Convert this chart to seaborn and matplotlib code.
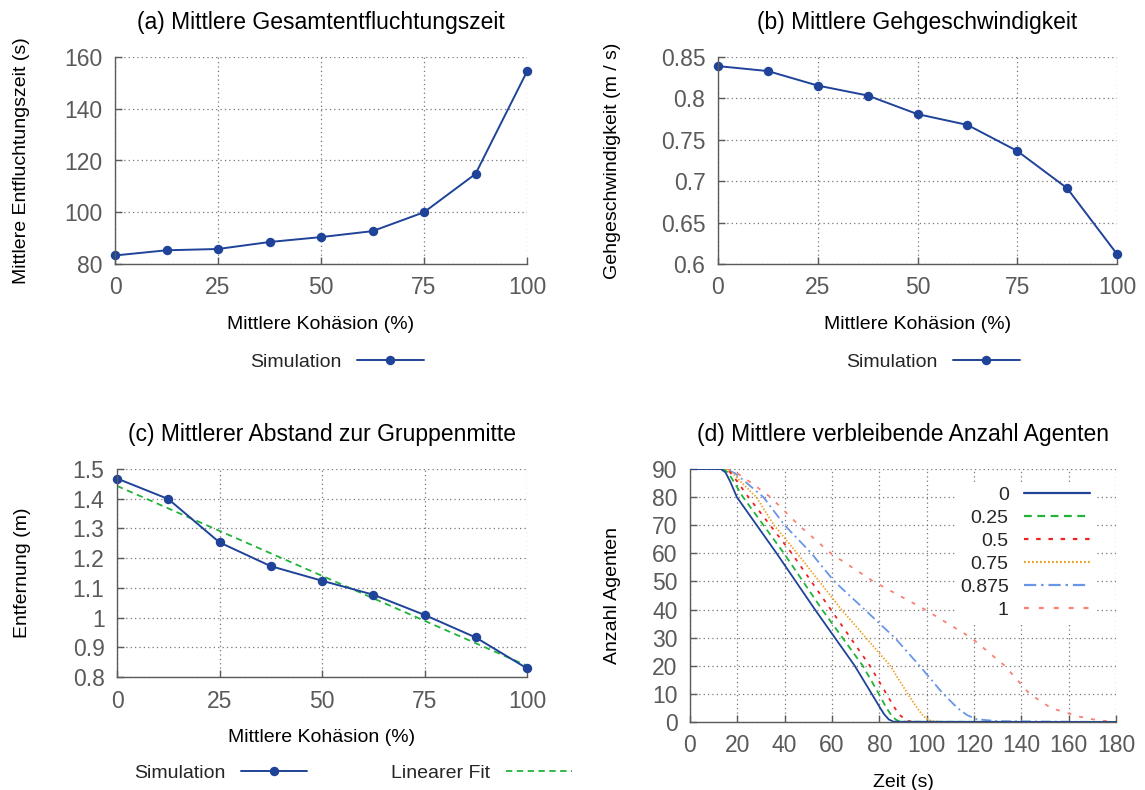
import numpy as np
import pandas as pd
import matplotlib
matplotlib.use("Agg")
import matplotlib.pyplot as plt
from matplotlib.lines import Line2D
import seaborn as sns

# Mean values per cohesion level (%)
kohaesion = [0, 12.5, 25, 37.5, 50, 62.5, 75, 87.5, 100]
entfluchtungszeit = [83.3, 85.3, 85.8, 88.5, 90.4, 92.7, 100.0, 114.8, 154.4]
gehgeschwindigkeit = [0.839, 0.833, 0.8155, 0.8035, 0.781, 0.768, 0.7365, 0.6915, 0.612]
abstand = [1.468, 1.399, 1.253, 1.173, 1.124, 1.077, 1.009, 0.933, 0.829]

# Remaining agents over time for each cohesion value
kurven_labels = ["0", "0.25", "0.5", "0.75", "0.875", "1"]
zeit_0 = [0, 13, 15, 17, 19.8, 36.6, 52.8, 69.6, 76.8, 80, 82, 84, 86, 180]
agenten_0 = [90, 90, 88.8, 85.5, 80, 60, 40, 20, 10, 5.5, 2.8, 0.9, 0.1, 0]
zeit_025 = [0, 14, 16, 18.5, 22.4, 39.7, 55.8, 73, 79.8, 83, 85, 87, 89, 180]
agenten_025 = [90, 90, 88.8, 85.5, 80, 60, 40, 20, 10, 5, 2.5, 0.8, 0.1, 0]
zeit_05 = [0, 15, 17, 20, 24.7, 43, 59.5, 76, 83, 86.5, 89, 91.5, 94, 180]
agenten_05 = [90, 90, 88.8, 85.5, 80, 60, 40, 20, 10, 5, 2.2, 0.6, 0, 0]
zeit_075 = [0, 15, 18, 22, 28, 35.5, 45.3, 64, 84.6, 92, 96, 98.5, 101, 105, 180]
agenten_075 = [90, 90, 88.5, 85, 80, 70, 60, 40, 20, 10, 5, 2.2, 0.6, 0, 0]
zeit_0875 = [0, 15, 19, 24, 31, 40, 51.3, 61, 73.8, 86.5, 97, 107, 113, 117, 121, 130, 180]
agenten_0875 = [90, 90, 88.5, 85, 80, 70, 60, 50, 40, 30, 20, 10, 5, 2.5, 1, 0.3, 0]
zeit_1 = [0, 16, 20, 26, 34, 46, 59.5, 77.5, 99.3, 118.8, 133, 143.5, 152.5, 164, 173, 180]
agenten_1 = [90, 90, 88.5, 85, 80, 70, 60, 50, 40, 30, 20, 10, 5, 2, 0.5, 0.2]

sns.set_theme(style="white")
plt.rcParams["font.family"] = ["Liberation Sans", "DejaVu Sans"]

BLAU = "#1f4399"
GRUEN = "#22b33a"
ROT = "#ee2222"
ORANGE = "#f0a020"
HELLBLAU = "#6a96e8"
LACHS = "#fa8072"
TICKGRAU = "#5a5a5a"

TITLE_FS = 16.5
LABEL_FS = 14
TICK_FS = 16.5
LEG_FS = 14

fig = plt.figure(figsize=(11.45, 7.9), dpi=100)
W, H = 1145, 790


def add_axes(x0, x1, ytop, ybot):
    return fig.add_axes([x0 / W, 1 - ybot / H, (x1 - x0) / W, (ybot - ytop) / H])


def style_axes(ax):
    for side in ("top", "right"):
        ax.spines[side].set_visible(False)
    for side in ("left", "bottom"):
        ax.spines[side].set_color(TICKGRAU)
        ax.spines[side].set_linewidth(1.0)
    ax.grid(True, color="#777777", linestyle=(0, (1, 2.5)), linewidth=0.9)
    ax.tick_params(axis="both", which="major", direction="in", length=5, width=1,
                   color=TICKGRAU, labelcolor=TICKGRAU, labelsize=TICK_FS, pad=9,
                   left=True, bottom=True)
    ax.set_axisbelow(True)


ax_a = add_axes(115, 527, 57, 264)
ax_b = add_axes(718, 1117, 57, 264)
ax_c = add_axes(117, 527, 469, 677)
ax_d = add_axes(690, 1116, 469, 722)

linie = dict(color=BLAU, linewidth=1.4, marker="o", markersize=6.8,
             markeredgewidth=0, markerfacecolor=BLAU)

# (a) total evacuation time
sns.lineplot(x=kohaesion, y=entfluchtungszeit, ax=ax_a, legend=False, clip_on=False, **linie)
ax_a.set_xlim(0, 100)
ax_a.set_ylim(80, 160)
ax_a.set_xticks([0, 25, 50, 75, 100])
ax_a.set_yticks([80, 100, 120, 140, 160])

# (b) walking speed
sns.lineplot(x=kohaesion, y=gehgeschwindigkeit, ax=ax_b, legend=False, clip_on=False, **linie)
ax_b.set_xlim(0, 100)
ax_b.set_ylim(0.6, 0.85)
ax_b.set_xticks([0, 25, 50, 75, 100])
ax_b.set_yticks([0.6, 0.65, 0.7, 0.75, 0.8, 0.85])
ax_b.set_yticklabels(["0.6", "0.65", "0.7", "0.75", "0.8", "0.85"])

# (c) distance to group centre with linear fit
steigung, achse = np.polyfit(kohaesion, abstand, 1)
fit = [achse + steigung * k for k in kohaesion]
sns.lineplot(x=kohaesion, y=fit, ax=ax_c, legend=False, color=GRUEN,
             linewidth=1.3, linestyle=(0, (3.5, 2.5)))
sns.lineplot(x=kohaesion, y=abstand, ax=ax_c, legend=False, clip_on=False, **linie)
ax_c.set_xlim(0, 100)
ax_c.set_ylim(0.8, 1.5)
ax_c.set_xticks([0, 25, 50, 75, 100])
ax_c.set_yticks([0.8, 0.9, 1.0, 1.1, 1.2, 1.3, 1.4, 1.5])
ax_c.set_yticklabels(["0.8", "0.9", "1", "1.1", "1.2", "1.3", "1.4", "1.5"])

# (d) remaining agents over time
kurven = [
    (zeit_0, agenten_0, BLAU, "-"),
    (zeit_025, agenten_025, GRUEN, (0, (3.5, 2.5))),
    (zeit_05, agenten_05, ROT, (0, (2.0, 3.5))),
    (zeit_075, agenten_075, ORANGE, (0, (0.8, 1.0))),
    (zeit_0875, agenten_0875, HELLBLAU, (0, (5.5, 2.2, 1.1, 2.2))),
    (zeit_1, agenten_1, LACHS, (0, (2.2, 4.5))),
]
for t, n, farbe, stil in reversed(kurven):
    sns.lineplot(x=t, y=n, ax=ax_d, legend=False, color=farbe, linewidth=1.3,
                 linestyle=stil, estimator=None, sort=False)
d_handles = [Line2D([], [], color=farbe, linewidth=1.6, linestyle=stil, label=lab)
             for (t, n, farbe, stil), lab in zip(kurven, kurven_labels)]
ax_d.set_xlim(0, 180)
ax_d.set_ylim(0, 90)
ax_d.set_xticks(range(0, 181, 20))
ax_d.set_yticks(range(0, 91, 10))

for ax in (ax_a, ax_b, ax_c, ax_d):
    style_axes(ax)

# titles
for ax, titel in (
    (ax_a, "(a) Mittlere Gesamtentfluchtungszeit"),
    (ax_b, "(b) Mittlere Gehgeschwindigkeit"),
    (ax_c, "(c) Mittlerer Abstand zur Gruppenmitte"),
    (ax_d, "(d) Mittlere verbleibende Anzahl Agenten"),
):
    ax.set_title(titel, fontsize=TITLE_FS, pad=20, color="black")

# axis labels
for ax, xl, yl, ylx in (
    (ax_a, "Mittlere Kohäsion (%)", "Mittlere Entfluchtungszeit (s)", 22),
    (ax_b, "Mittlere Kohäsion (%)", "Gehgeschwindigkeit (m / s)", 612),
    (ax_c, "Mittlere Kohäsion (%)", "Entfernung (m)", 23),
    (ax_d, "Zeit (s)", "Anzahl Agenten", 612),
):
    ax.set_xlabel(xl, fontsize=LABEL_FS, color="black", labelpad=12)
    ax.set_ylabel(yl, fontsize=LABEL_FS, color="black", va="center")
    bb = ax.get_position()
    ax.yaxis.set_label_coords((ylx / W - bb.x0) / bb.width, 0.5)

# legends below panels a, b, c
leg_kw = dict(frameon=False, markerfirst=False, fontsize=LEG_FS, handlelength=3.4,
              handletextpad=0.8, loc="center")
sim_handle = Line2D([], [], label="Simulation", **linie)
fit_handle = Line2D([], [], color=GRUEN, linewidth=1.3, linestyle=(0, (3.5, 2.5)),
                    label="Linearer Fit")
fig.legend(handles=[sim_handle], bbox_to_anchor=(337 / W, 1 - 362 / H), **leg_kw)
fig.legend(handles=[sim_handle], bbox_to_anchor=(933 / W, 1 - 362 / H), **leg_kw)
fig.legend(handles=[sim_handle, fit_handle], ncol=2, columnspacing=4.3,
           bbox_to_anchor=(353 / W, 1 - 773 / H), **leg_kw)

# legend inside panel d
leg_d = ax_d.legend(handles=d_handles, loc="upper right",
                    bbox_to_anchor=((1104 - 690) / 426, (722 - 473) / 253),
                    frameon=True, fancybox=False, framealpha=1, edgecolor="white",
                    facecolor="white", markerfirst=False, fontsize=LEG_FS,
                    handlelength=3.4, handletextpad=0.8, labelspacing=0.27,
                    borderpad=0.2)
for txt in leg_d.get_texts():
    txt.set_ha("right")
leg_d.set_zorder(5)

fig.savefig("out.png", dpi=100, facecolor="white")
